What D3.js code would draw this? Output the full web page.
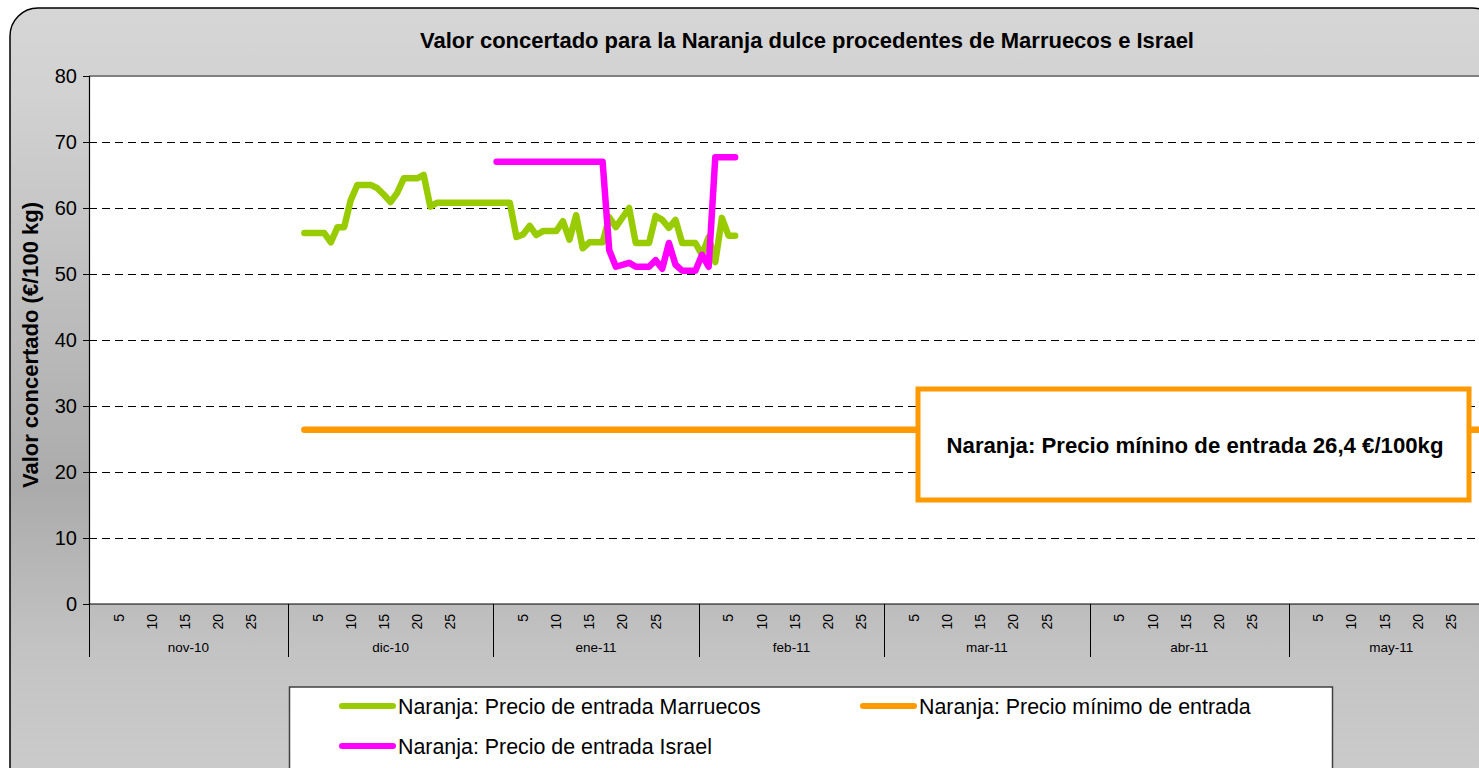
<!DOCTYPE html>
<html>
<head>
<meta charset="utf-8">
<title>Naranja dulce</title>
<style>
  html, body { margin: 0; padding: 0; background: #ffffff; overflow: hidden; }
  svg { display: block; font-family: "Liberation Sans", Arial, Helvetica, sans-serif; }
</style>
</head>
<body>
<div id="chart"></div>
<script src="https://cdnjs.cloudflare.com/ajax/libs/d3/7.8.5/d3.min.js"></script>
<script>
// datos
var marruecosFechas = ["2010-12-03","2010-12-06","2010-12-07","2010-12-08","2010-12-09","2010-12-10","2010-12-11",
  "2010-12-13","2010-12-14","2010-12-15","2010-12-16","2010-12-17","2010-12-18","2010-12-20","2010-12-21",
  "2010-12-22","2010-12-23","2011-01-03","2011-01-04","2011-01-05","2011-01-06","2011-01-07","2011-01-08",
  "2011-01-10","2011-01-11","2011-01-12","2011-01-13","2011-01-14","2011-01-15","2011-01-17","2011-01-18",
  "2011-01-19","2011-01-21","2011-01-22","2011-01-24","2011-01-25","2011-01-26","2011-01-27","2011-01-28",
  "2011-01-29","2011-01-31","2011-02-01","2011-02-02","2011-02-03","2011-02-04","2011-02-05","2011-02-06"];
var marruecosValores = [56.2,56.2,54.8,57.1,57.1,61.2,63.5,
  63.5,63.0,62.0,60.9,62.3,64.5,64.5,65.0,
  60.2,60.8,60.8,55.6,56.0,57.3,55.9,56.5,
  56.5,58.0,55.2,58.9,53.9,54.8,54.8,58.6,
  57.1,60.0,54.7,54.7,58.8,58.2,57.0,58.2,
  54.7,54.7,52.9,55.6,51.8,58.5,55.8,55.8];

var israelFechas = ["2011-01-01","2011-01-17","2011-01-18","2011-01-19","2011-01-21","2011-01-22","2011-01-24",
  "2011-01-25","2011-01-26","2011-01-27","2011-01-28","2011-01-29","2011-01-31","2011-02-01","2011-02-02",
  "2011-02-03","2011-02-06"];
var israelValores = [67.0,67.0,53.6,51.1,51.7,51.1,51.1,
  52.1,50.8,54.7,51.4,50.5,50.5,52.9,51.1,
  67.7,67.7];

var minimoFechas = ["2010-12-03","2011-05-31"];
var minimoValores = [26.4,26.4];

var meses = ["nov-10","dic-10","ene-11","feb-11","mar-11","abr-11","may-11"];
var inicioMeses = ["2010-11-01","2010-12-01","2011-01-01","2011-02-01","2011-03-01","2011-04-01","2011-05-01","2011-06-01"];
var dias = [5,10,15,20,25];
var yTicks = [0,10,20,30,40,50,60,70,80];

var titulo = "Valor concertado para la Naranja dulce procedentes de Marruecos e Israel";
var tituloY = "Valor concertado (€/100 kg)";
var nota = "Naranja: Precio mínino de entrada 26,4 €/100kg";

var W = 1479, H = 768;
var plotLeft = 89, plotTop = 76, plotBottom = 604, plotRight = 1494;

var parse = d3.timeParse("%Y-%m-%d");

var svg = d3.select("#chart").append("svg")
  .attr("width", W).attr("height", H);

// fondo con degradado
var defs = svg.append("defs");
var grad = defs.append("linearGradient").attr("id", "fondo")
  .attr("x1", 0).attr("y1", 0).attr("x2", 0).attr("y2", 1);
grad.append("stop").attr("offset", "0%").attr("stop-color", "#d6d6d6");
grad.append("stop").attr("offset", "12%").attr("stop-color", "#d1d1d1");
grad.append("stop").attr("offset", "60%").attr("stop-color", "#ababab");
grad.append("stop").attr("offset", "80%").attr("stop-color", "#c3c3c3");
grad.append("stop").attr("offset", "100%").attr("stop-color", "#cdcdcd");

svg.append("rect")
  .attr("x", 10).attr("y", 8).attr("width", 1490).attr("height", 800)
  .attr("rx", 28).attr("ry", 28)
  .attr("fill", "url(#fondo)")
  .attr("stroke", "#000").attr("stroke-width", 1.5);

// escalas
var x = d3.scaleTime()
  .domain([parse("2010-11-01"), parse("2011-06-01")])
  .range([plotLeft, plotRight]);
var y = d3.scaleLinear().domain([0, 80]).range([plotBottom, plotTop]);

// centro del día
function xc(s) { return x(d3.timeHour.offset(parse(s), 12)); }

// área del gráfico
svg.append("rect")
  .attr("x", plotLeft).attr("y", plotTop).attr("width", W - plotLeft + 20).attr("height", plotBottom - plotTop)
  .attr("fill", "#ffffff");
svg.append("line")
  .attr("x1", plotLeft).attr("x2", W).attr("y1", plotTop).attr("y2", plotTop)
  .attr("stroke", "#808080").attr("stroke-width", 2);

// líneas de división
svg.append("g").selectAll("line")
  .data(yTicks.filter(function(d) { return d > 0 && d < 80; }))
  .enter().append("line")
  .attr("x1", plotLeft).attr("x2", W)
  .attr("y1", function(d) { return Math.round(y(d)) + 0.5; })
  .attr("y2", function(d) { return Math.round(y(d)) + 0.5; })
  .attr("stroke", "#000").attr("stroke-width", 1)
  .attr("stroke-dasharray", "8,5");

// eje Y
var yAxis = d3.axisLeft(y).tickValues(yTicks).tickSize(6).tickPadding(6);
var gy = svg.append("g")
  .attr("transform", "translate(" + plotLeft + ",0)")
  .call(yAxis);
gy.select(".domain").attr("stroke", "#000").attr("stroke-width", 1.2);
gy.selectAll(".tick line").attr("stroke", "#000");
gy.selectAll("text")
  .attr("font-size", "20px")
  .attr("font-family", "'Liberation Sans', Arial, sans-serif")
  .attr("fill", "#000");

// eje X: línea base
svg.append("line")
  .attr("x1", plotLeft).attr("x2", W).attr("y1", plotBottom).attr("y2", plotBottom)
  .attr("stroke", "#000").attr("stroke-width", 1.2);

// separadores de meses
svg.append("g").selectAll("line")
  .data(inicioMeses)
  .enter().append("line")
  .attr("x1", function(d) { return Math.round(x(parse(d))) + 0.5; })
  .attr("x2", function(d) { return Math.round(x(parse(d))) + 0.5; })
  .attr("y1", plotBottom).attr("y2", 657)
  .attr("stroke", "#000").attr("stroke-width", 1);

// etiquetas de días
var etiquetasDias = [];
meses.forEach(function(m, i) {
  dias.forEach(function(d) {
    var f = d3.timeDay.offset(parse(inicioMeses[i]), d - 1);
    etiquetasDias.push({ x: x(d3.timeHour.offset(f, 12)), t: d });
  });
});
svg.append("g").selectAll("text")
  .data(etiquetasDias)
  .enter().append("text")
  .attr("transform", function(d) { return "translate(" + d.x + ",614) rotate(-90)"; })
  .attr("text-anchor", "end")
  .attr("dy", "0.35em")
  .attr("font-size", "14px")
  .attr("fill", "#000")
  .text(function(d) { return d.t; });

// etiquetas de meses
svg.append("g").selectAll("text")
  .data(meses)
  .enter().append("text")
  .attr("x", function(d, i) { return (x(parse(inicioMeses[i])) + x(parse(inicioMeses[i + 1]))) / 2; })
  .attr("y", 652)
  .attr("text-anchor", "middle")
  .attr("font-size", "13.5px")
  .attr("fill", "#000")
  .text(function(d) { return d; });

// series
var linea = d3.line()
  .x(function(d) { return xc(d[0]); })
  .y(function(d) { return y(d[1]); });

function serie(fechas, valores, color) {
  svg.append("path")
    .datum(d3.zip(fechas, valores))
    .attr("d", linea)
    .attr("fill", "none")
    .attr("stroke", color)
    .attr("stroke-width", 6.5)
    .attr("stroke-linejoin", "round")
    .attr("stroke-linecap", "round");
}
serie(minimoFechas, minimoValores, "#ff9900");
serie(marruecosFechas, marruecosValores, "#99cc00");
serie(israelFechas, israelValores, "#ff00ff");

// cuadro de nota
svg.append("rect")
  .attr("x", 918).attr("y", 389).attr("width", 551).attr("height", 111)
  .attr("fill", "#fff").attr("stroke", "#ff9900").attr("stroke-width", 5);
svg.append("text")
  .attr("x", 1195).attr("y", 453)
  .attr("text-anchor", "middle")
  .attr("font-size", "22.2px").attr("font-weight", "bold")
  .attr("fill", "#000")
  .text(nota);

// títulos
svg.append("text")
  .attr("x", 807).attr("y", 48)
  .attr("text-anchor", "middle")
  .attr("font-size", "22px").attr("font-weight", "bold")
  .attr("fill", "#000")
  .text(titulo);

svg.append("text")
  .attr("transform", "translate(38,345) rotate(-90)")
  .attr("text-anchor", "middle")
  .attr("font-size", "22px").attr("font-weight", "bold")
  .attr("fill", "#000")
  .text(tituloY);

// leyenda
svg.append("rect")
  .attr("x", 289.5).attr("y", 687).attr("width", 1043).attr("height", 100)
  .attr("fill", "#fff").attr("stroke", "#404040").attr("stroke-width", 1.5);

var leyenda = [
  { t: "Naranja: Precio de entrada Marruecos", c: "#99cc00", x: 339, y: 706 },
  { t: "Naranja: Precio mínimo de entrada", c: "#ff9900", x: 860, y: 706 },
  { t: "Naranja: Precio de entrada Israel", c: "#ff00ff", x: 339, y: 746 }
];
var li = svg.append("g").selectAll("g").data(leyenda).enter().append("g");
li.append("line")
  .attr("x1", function(d) { return d.x + 3; }).attr("x2", function(d) { return d.x + 54; })
  .attr("y1", function(d) { return d.y; }).attr("y2", function(d) { return d.y; })
  .attr("stroke", function(d) { return d.c; })
  .attr("stroke-width", 6).attr("stroke-linecap", "round");
li.append("text")
  .attr("x", function(d) { return d.x + 59; })
  .attr("y", function(d) { return d.y + 8; })
  .attr("font-size", "21.4px")
  .attr("fill", "#000")
  .text(function(d) { return d.t; });
</script>
</body>
</html>
